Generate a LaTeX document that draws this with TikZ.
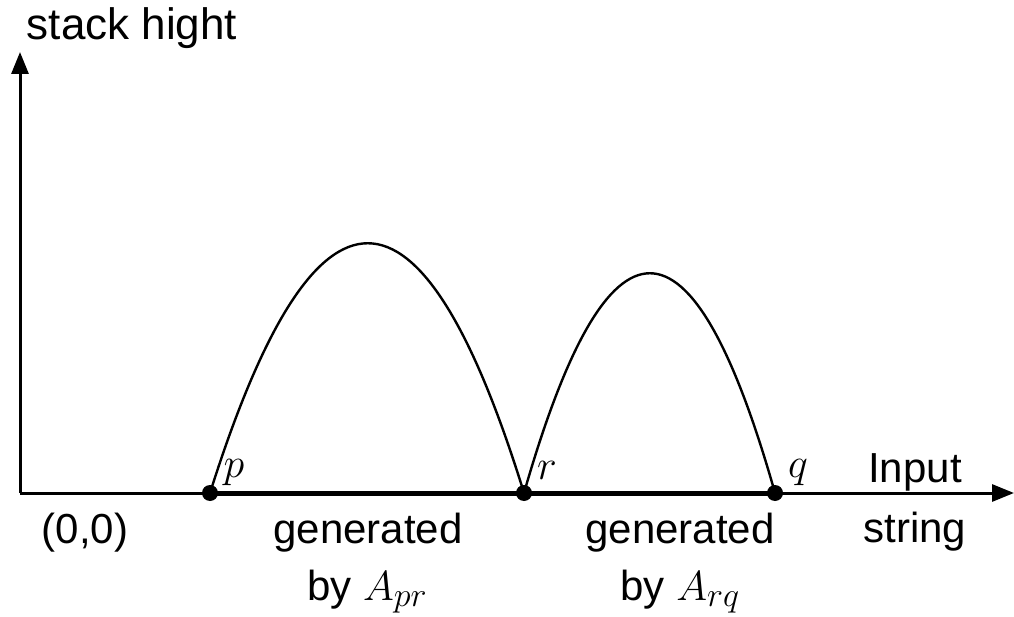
\RequirePackage{fix-cm}
\documentclass[tikz,border=0pt]{standalone}
\usepackage{fontspec}
\setsansfont{Liberation Sans}
\DeclareMathSizes{42}{42}{34}{26}
\usetikzlibrary{arrows.meta}
\begin{document}
\begin{tikzpicture}[x=1pt,y=-1pt,
  font=\fontsize{42}{50}\selectfont\sffamily,
  dot/.style={circle,fill=black,inner sep=0pt,minimum size=16pt},
  axis/.style={line width=3pt,-{Triangle[length=22pt,width=17pt]}},
  base/.style={line width=5pt},
  hump/.style={line width=2.4pt},
  lbl/.style={anchor=base,inner sep=0pt}]
\useasboundingbox (0,0) rectangle (1014,617);
\coordinate (O) at (20,493);
\coordinate (ytip) at (20,52);
\coordinate (xtip) at (1014,493);
\draw[axis] (O) -- (ytip);
\draw[axis] (O) -- (xtip);
\node[dot] (p) at (210,493) {};
\node[dot] (r) at (524,493) {};
\node[dot] (q) at (775,493) {};
\draw[base] (p.center) -- (r.center) -- (q.center);
\draw[hump] (p.center) .. controls (315,160) and (421,160) .. (r.center);
\draw[hump] (r.center) .. controls (608,200) and (692,200) .. (q.center);
\node[lbl,font=\fontsize{44}{52}\selectfont\sffamily] (ylab) at (132,40) {stack hight};
\node[lbl] (orig) at (85,543) {(0,0)};
\node[lbl] (g1) at (368,543) {generated};
\node[lbl] (b1) at (367,600) {by $A_{pr}$};
\node[lbl] (g2) at (680,543) {generated};
\node[lbl] (b2) at (680,600) {by $A_{rq}$};
\node[lbl] (in1) at (915,482) {Input};
\node[lbl] (in2) at (915,542) {string};
\node[lbl] (pl) at (234,477) {$p$};
\node[lbl] (rl) at (547,479) {$r$};
\node[lbl] (ql) at (798,477) {$q$};
\end{tikzpicture}
\end{document}
